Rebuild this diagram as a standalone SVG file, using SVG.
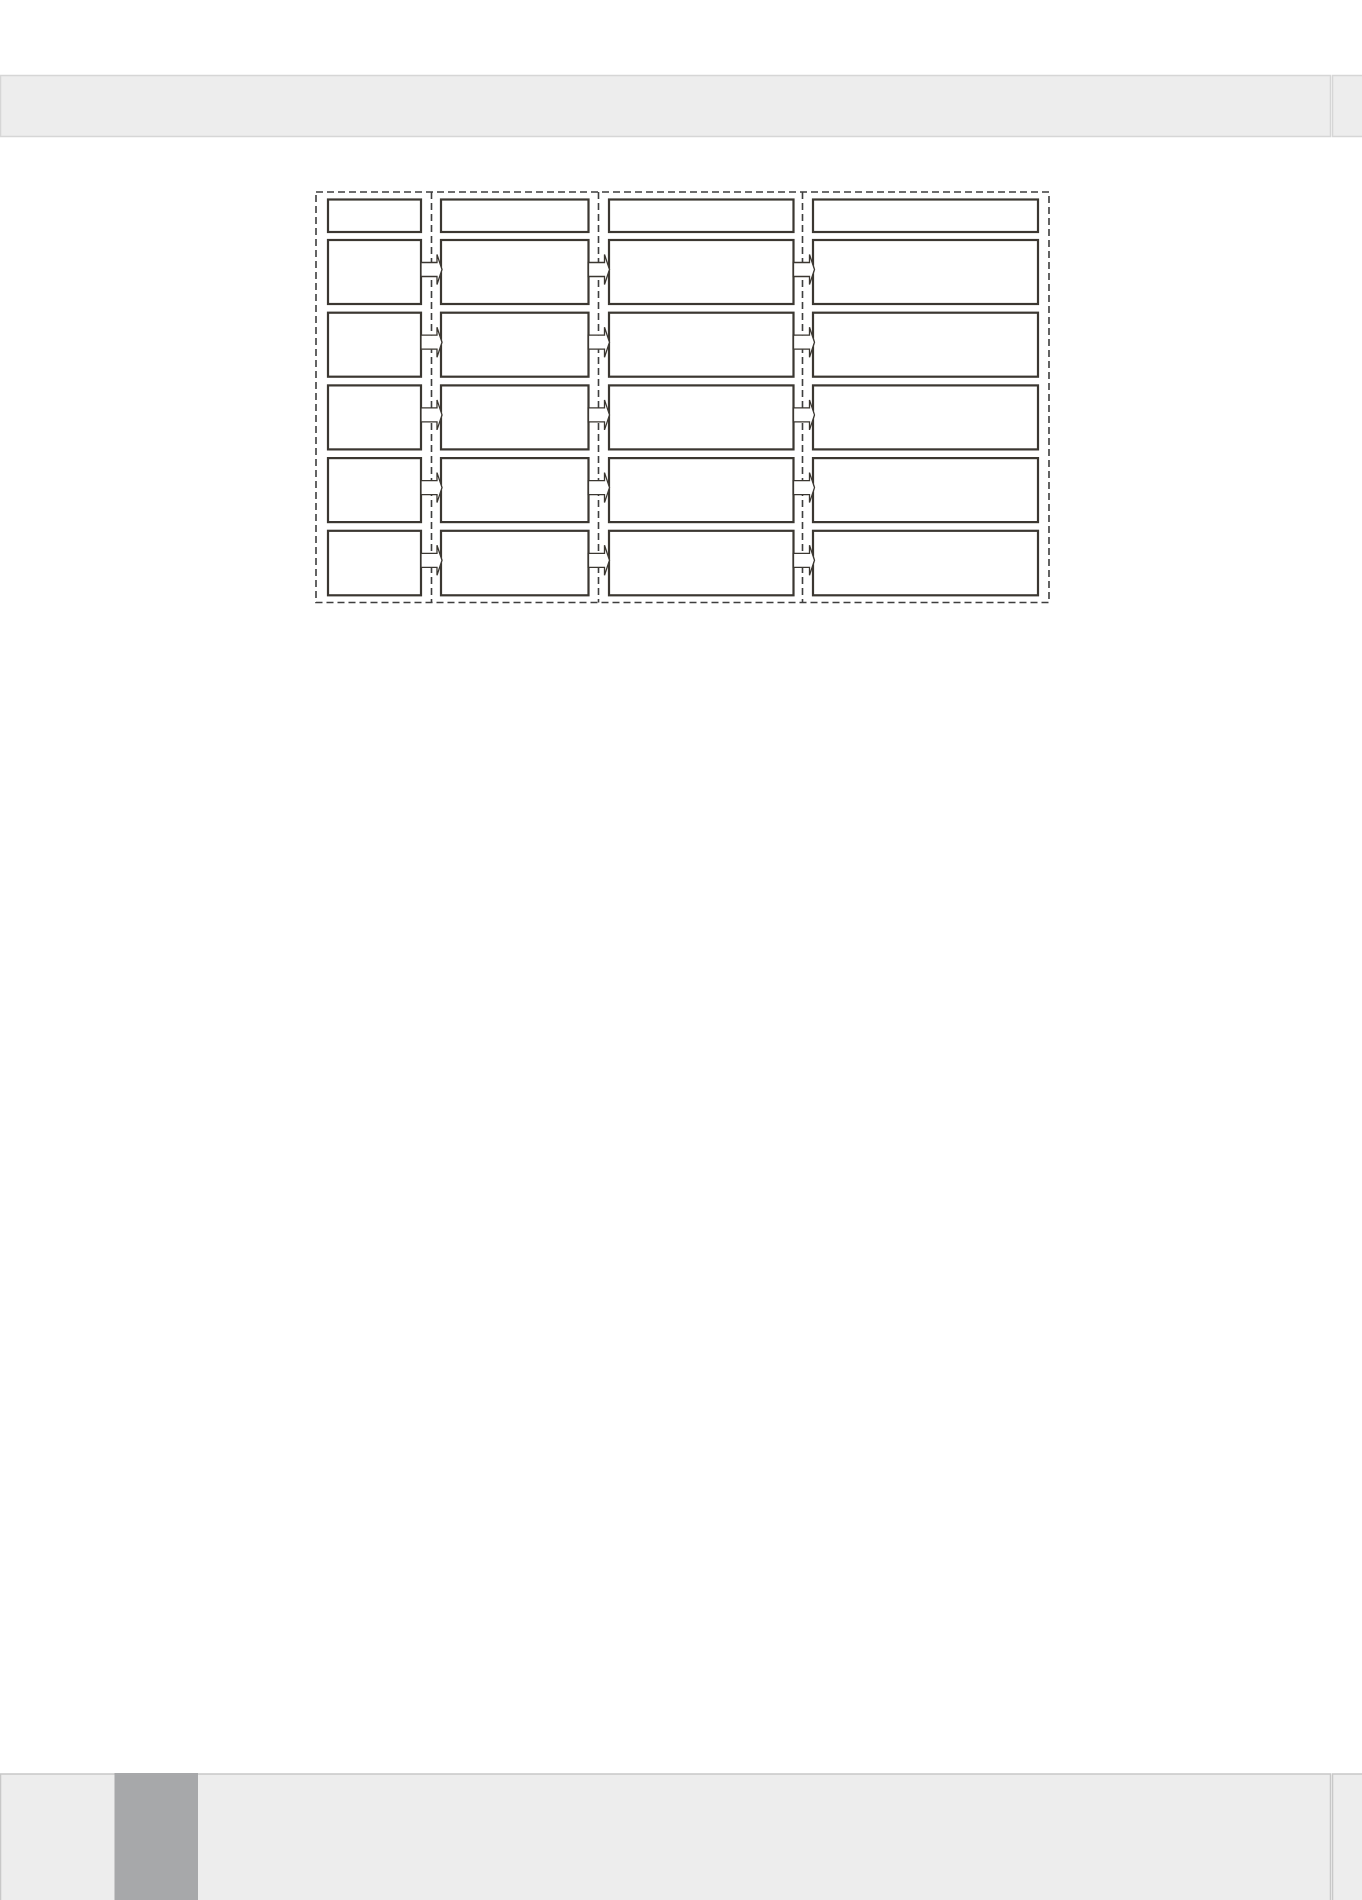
<svg xmlns="http://www.w3.org/2000/svg" width="1362" height="1900" viewBox="0 0 1362 1900">
<defs>
<style>
.bar{fill:#ededed;stroke:#d6d6d6;stroke-width:1.5}
.lane{fill:none;stroke:#3e3e3e;stroke-width:1.6;stroke-dasharray:7 4}
.box{fill:#ffffff;stroke:#3b3731;stroke-width:2.2}
.arr{fill:#ffffff;stroke:#3b3731;stroke-width:1.3;stroke-linejoin:miter}
</style>
<symbol id="arrow" overflow="visible">
<path class="arr" d="M0,-7 H16 V-15 L21,0 L16,15 V7 H0 Z"/>
</symbol>
</defs>
<rect width="1362" height="1900" fill="#ffffff"/>
<g id="header-bar">
<rect class="bar" x="0.5" y="75.5" width="1330" height="61"/>
<rect class="bar" x="1332.5" y="75.5" width="32" height="61"/>
</g>
<g id="footer-bar">
<rect class="bar" x="0.5" y="1774" width="1330" height="130" style="stroke:#c8c8c8"/>
<rect class="bar" x="1332.5" y="1774" width="32" height="130" style="stroke:#c8c8c8"/>
<rect x="114.5" y="1773" width="83.5" height="127" fill="#a7a8aa"/>
</g>
<g id="lanes">
<rect class="lane" x="316" y="192" width="733" height="410.5"/>
<line class="lane" x1="431.5" y1="192" x2="431.5" y2="602.5"/>
<line class="lane" x1="598.5" y1="192" x2="598.5" y2="602.5"/>
<line class="lane" x1="802.5" y1="192" x2="802.5" y2="602.5"/>
</g>
<g id="col1">
<rect id="c1h" class="box" x="328" y="199.5" width="93" height="32.5"/>
<rect id="c1r1" class="box" x="328" y="240" width="93" height="64"/>
<rect id="c1r2" class="box" x="328" y="312.7" width="93" height="64"/>
<rect id="c1r3" class="box" x="328" y="385.4" width="93" height="64"/>
<rect id="c1r4" class="box" x="328" y="458.1" width="93" height="64"/>
<rect id="c1r5" class="box" x="328" y="530.8" width="93" height="64.5"/>
</g>
<g id="col2">
<rect id="c2h" class="box" x="441" y="199.5" width="147.5" height="32.5"/>
<rect id="c2r1" class="box" x="441" y="240" width="147.5" height="64"/>
<rect id="c2r2" class="box" x="441" y="312.7" width="147.5" height="64"/>
<rect id="c2r3" class="box" x="441" y="385.4" width="147.5" height="64"/>
<rect id="c2r4" class="box" x="441" y="458.1" width="147.5" height="64"/>
<rect id="c2r5" class="box" x="441" y="530.8" width="147.5" height="64.5"/>
</g>
<g id="col3">
<rect id="c3h" class="box" x="609" y="199.5" width="184.5" height="32.5"/>
<rect id="c3r1" class="box" x="609" y="240" width="184.5" height="64"/>
<rect id="c3r2" class="box" x="609" y="312.7" width="184.5" height="64"/>
<rect id="c3r3" class="box" x="609" y="385.4" width="184.5" height="64"/>
<rect id="c3r4" class="box" x="609" y="458.1" width="184.5" height="64"/>
<rect id="c3r5" class="box" x="609" y="530.8" width="184.5" height="64.5"/>
</g>
<g id="col4">
<rect id="c4h" class="box" x="813" y="199.5" width="225" height="32.5"/>
<rect id="c4r1" class="box" x="813" y="240" width="225" height="64"/>
<rect id="c4r2" class="box" x="813" y="312.7" width="225" height="64"/>
<rect id="c4r3" class="box" x="813" y="385.4" width="225" height="64"/>
<rect id="c4r4" class="box" x="813" y="458.1" width="225" height="64"/>
<rect id="c4r5" class="box" x="813" y="530.8" width="225" height="64.5"/>
</g>
<g id="connectors">
<use href="#arrow" x="421" y="269.5"/>
<use href="#arrow" x="421" y="342.2"/>
<use href="#arrow" x="421" y="414.9"/>
<use href="#arrow" x="421" y="487.6"/>
<use href="#arrow" x="421" y="560.3"/>
<use href="#arrow" x="588.5" y="269.5"/>
<use href="#arrow" x="588.5" y="342.2"/>
<use href="#arrow" x="588.5" y="414.9"/>
<use href="#arrow" x="588.5" y="487.6"/>
<use href="#arrow" x="588.5" y="560.3"/>
<use href="#arrow" x="793.5" y="269.5"/>
<use href="#arrow" x="793.5" y="342.2"/>
<use href="#arrow" x="793.5" y="414.9"/>
<use href="#arrow" x="793.5" y="487.6"/>
<use href="#arrow" x="793.5" y="560.3"/>
</g>
</svg>
